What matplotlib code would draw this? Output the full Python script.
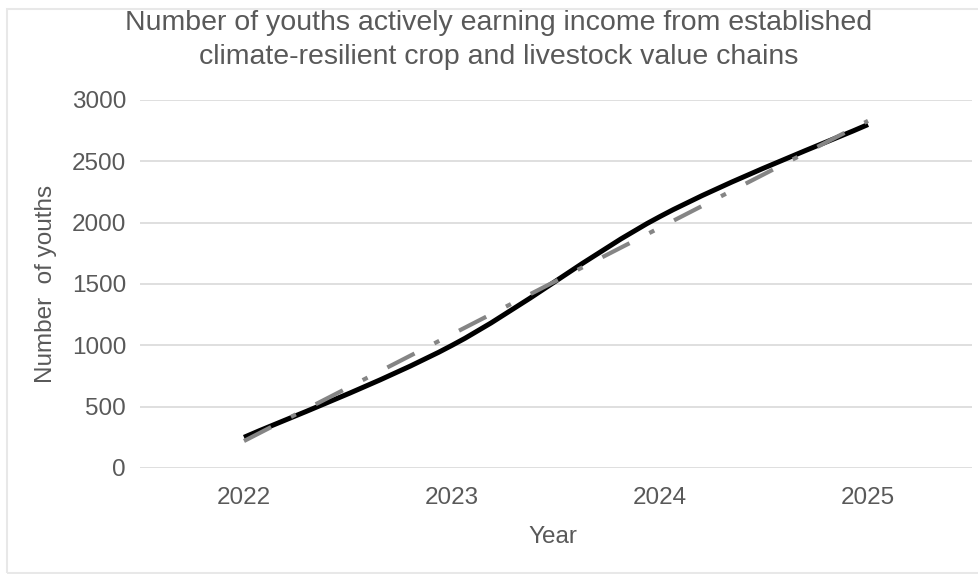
import matplotlib
matplotlib.use("Agg")
import matplotlib.pyplot as plt
from matplotlib.path import Path
from matplotlib.patches import PathPatch, Rectangle
import numpy as np

years = ["2022", "2023", "2024", "2025"]
youths = [250, 1000, 2050, 2800]
trend = [220, 1090, 1960, 2830]
y_ticks = [0, 500, 1000, 1500, 2000, 2500, 3000]

title = ("Number of youths actively earning income from established\n"
         "climate-resilient crop and livestock value chains")

plt.rcParams["font.family"] = ["Liberation Sans", "DejaVu Sans"]
plt.rcParams["lines.scale_dashes"] = False
TXT = "#595959"

W, H = 979, 574
fig = plt.figure(figsize=(W / 100, H / 100), dpi=100)

def fx(px):
    return px / W

def fy(py):
    return 1 - py / H

# chart-area border
fig.patches.append(Rectangle((fx(7), fy(573)), fx(1200), fy(9) - fy(573),
                             transform=fig.transFigure, fill=False,
                             edgecolor="#e8e8e8", linewidth=1.5))

ax = fig.add_axes([fx(140), fy(468), fx(972) - fx(140), fy(100) - fy(468)])
x = np.arange(len(years))
ax.set_xlim(-0.5, len(years) - 0.5)
ax.set_ylim(0, 3000)
ax.set_yticks(y_ticks)
ax.set_xticks(x)
ax.set_xticklabels(years)
for s in ax.spines.values():
    s.set_visible(False)
ax.grid(axis="y", color="#d9d9d9", linewidth=1.2)
ax.set_axisbelow(True)
ax.tick_params(length=0, labelsize=17.5, labelcolor=TXT)
ax.tick_params(axis="y", pad=10)
ax.tick_params(axis="x", pad=14)

# smoothed series line (cubic Bezier through the data points)
pts = np.column_stack([x, youths]).astype(float)
ext = np.vstack([pts[0], pts, pts[-1]])
verts = [tuple(pts[0])]
codes = [Path.MOVETO]
for i in range(len(pts) - 1):
    p0, p1, p2, p3 = ext[i], ext[i + 1], ext[i + 2], ext[i + 3]
    c1 = p1 + (p2 - p0) / 6
    c2 = p2 - (p3 - p1) / 6
    verts += [tuple(c1), tuple(c2), tuple(p2)]
    codes += [Path.CURVE4] * 3
ax.add_patch(PathPatch(Path(verts, codes), facecolor="none", edgecolor="black",
                       linewidth=3.6, capstyle="butt", zorder=3))

# linear trendline
ax.plot(x, trend, color="#858585", linewidth=3.0, solid_capstyle="butt",
        dash_capstyle="butt", linestyle=(0, (22, 16, 4, 16)), zorder=4)

fig.text(fx(499), fy(40), title, ha="center", va="center", fontsize=20.5,
         color=TXT, linespacing=1.45)
ax.set_ylabel("Number  of youths", fontsize=17.5, color=TXT)
ax.yaxis.set_label_coords(fx(46 - 140) / (fx(972) - fx(140)), 0.5)
ax.yaxis.label.set_va("center")
fig.text(fx(553), fy(537), "Year", ha="center", va="center", fontsize=17.5,
         color=TXT)

fig.savefig("out.png", dpi=100, facecolor="white")
